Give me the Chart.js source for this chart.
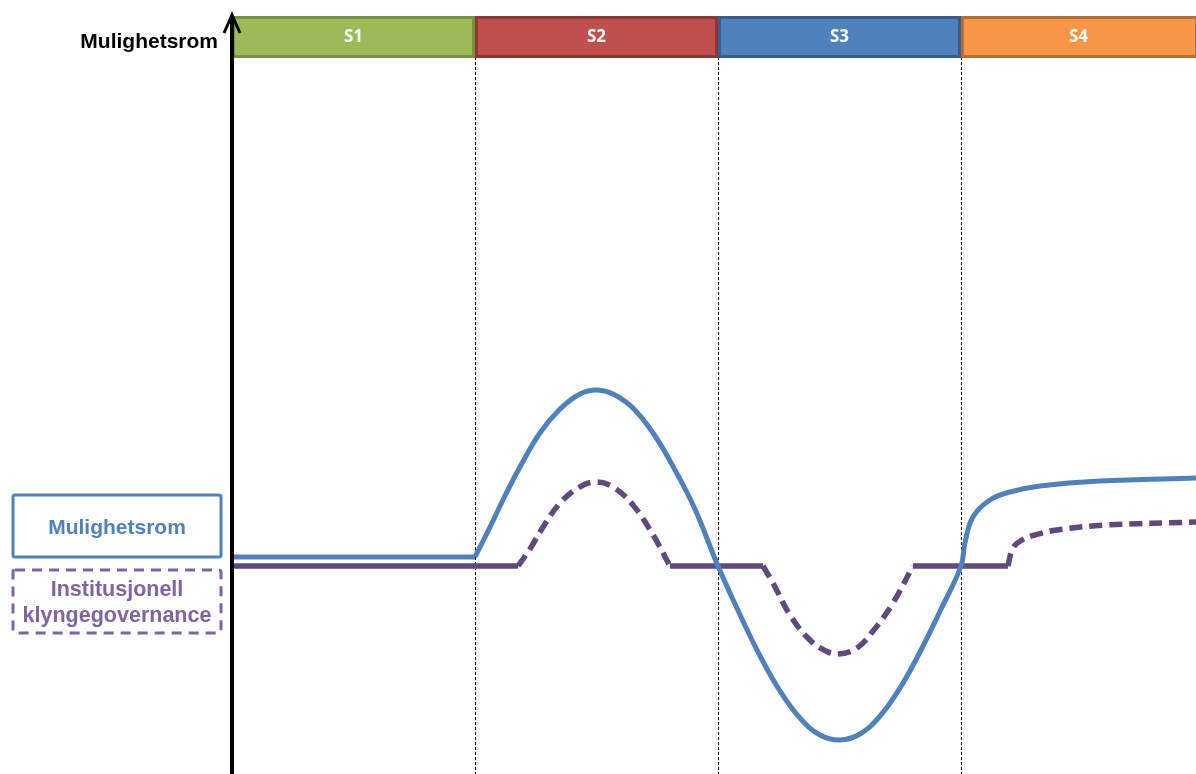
<!DOCTYPE html>
<html>
<head>
<meta charset="utf-8">
<script src="https://cdn.jsdelivr.net/npm/chart.js@4.4.1/dist/chart.umd.min.js"></script>
<style>
  html, body { margin: 0; padding: 0; background: #fff; overflow: hidden; }
  canvas { display: block; }
</style>
</head>
<body>
<canvas id="myChart" width="1196" height="774"></canvas>
<script>
// stages along the time axis (one unit per stage)
var stages = ["S1", "S2", "S3", "S4"];
var stageColors = ["#9BBB59", "#C0504D", "#4F81BD", "#F79646"];
var stageBorders = ["#76923C", "#8C3836", "#385D8A", "#B66D31"];

// Mulighetsrom (blue, solid)
var blueX = [0, 1.0, 1.062, 1.123, 1.185, 1.267, 1.35, 1.432, 1.502, 1.576, 1.658, 1.741, 1.823, 1.905, 2.0,
             2.091, 2.173, 2.255, 2.337, 2.42, 2.502, 2.584, 2.667, 2.749, 2.831, 2.914, 3.0,
             3.016, 3.049, 3.119, 3.202, 3.325, 3.572, 3.97];
var blueY = [0.9, 0.9, 3.9, 7.0, 9.9, 13.3, 15.7, 17.2, 17.6, 17.1, 15.6, 13.0, 9.6, 5.7, 0,
             -4.9, -9.0, -12.5, -15.2, -16.9, -17.4, -16.8, -15.0, -12.2, -8.6, -4.5, 0,
             2.3, 4.9, 6.6, 7.4, 8.0, 8.5, 8.8];

// Institusjonell klyngegovernance (purple, dashed where it moves)
var purpleX = [0, 1.0, 1.177, 1.226, 1.288, 1.35, 1.424, 1.494, 1.568, 1.65, 1.733, 1.802,
               2.0, 2.185, 2.226, 2.296, 2.366, 2.428, 2.494, 2.572, 2.638, 2.72, 2.802,
               3.0, 3.193, 3.214, 3.251, 3.305, 3.395, 3.601, 3.97];
var purpleY = [0, 0, 0, 1.7, 4.2, 6.3, 7.8, 8.4, 7.9, 6.1, 3.1, 0,
               0, 0, -1.7, -4.9, -7.1, -8.3, -8.8, -8.2, -6.5, -3.7, 0,
               0, 0, 1.8, 2.6, 3.1, 3.6, 4.1, 4.4];

// pieces of each line: [from, to, curved]
var blueParts = [[0, 1.0, false], [1.0, 3.97, true]];
var purpleParts = [[0, 1.177, false], [1.177, 1.802, true], [1.802, 2.185, false],
                   [2.185, 2.802, true], [2.802, 3.193, false], [3.193, 3.97, true]];

function slicePoints(xs, ys, from, to) {
  var pts = [];
  for (var i = 0; i < xs.length; i++) {
    if (xs[i] >= from && xs[i] <= to) pts.push({ x: xs[i], y: ys[i] });
  }
  return pts;
}

var decorations = {
  id: "decorations",
  beforeDatasetsDraw: function (chart) {
    var c = chart.ctx;
    var xs = chart.scales.x;
    var area = chart.chartArea;
    c.save();
    // dashed stage separators
    c.strokeStyle = "#000";
    c.lineWidth = 1;
    c.setLineDash([3, 2]);
    for (var i = 1; i < stages.length; i++) {
      var px = Math.round(xs.getPixelForValue(i)) + 0.5;
      c.beginPath();
      c.moveTo(px, 57);
      c.lineTo(px, area.bottom);
      c.stroke();
    }
    c.restore();
  },
  afterDatasetsDraw: function (chart) {
    var c = chart.ctx;
    var xs = chart.scales.x;
    var area = chart.chartArea;
    c.save();

    // stage bars
    for (var i = 0; i < stages.length; i++) {
      var x0 = xs.getPixelForValue(i);
      var x1 = Math.min(xs.getPixelForValue(i + 1), area.right + 2);
      c.fillStyle = stageColors[i];
      c.fillRect(x0, 16, x1 - x0, 42);
      c.strokeStyle = stageBorders[i];
      c.lineWidth = 3;
      c.strokeRect(x0 + 1.5, 17.5, x1 - x0 - 3, 39);
      c.fillStyle = "#fff";
      c.font = "bold 17px 'Open Sans', 'Liberation Sans', sans-serif";
      c.textAlign = "center";
      c.textBaseline = "middle";
      c.fillText(stages[i], (x0 + Math.min(x1, area.right)) / 2, 37);
    }

    // y axis with arrow
    var ax = area.left;
    c.strokeStyle = "#000";
    c.lineWidth = 4;
    c.beginPath();
    c.moveTo(ax, area.bottom);
    c.lineTo(ax, 18);
    c.stroke();
    c.lineWidth = 3;
    c.beginPath();
    c.moveTo(ax - 8, 33);
    c.lineTo(ax, 15);
    c.lineTo(ax + 8, 33);
    c.stroke();

    c.fillStyle = "#000";
    c.font = "bold 21px 'Liberation Sans', Arial, sans-serif";
    c.textAlign = "right";
    c.textBaseline = "middle";
    c.fillText("Mulighetsrom", 218, 42);

    // legend boxes
    c.lineWidth = 3;
    c.strokeStyle = "#4F81BD";
    c.setLineDash([]);
    c.beginPath();
    c.roundRect(13, 495, 208, 62, 2);
    c.stroke();
    c.fillStyle = "#4F81BD";
    c.font = "bold 21px 'Liberation Sans', Arial, sans-serif";
    c.textAlign = "center";
    c.fillText("Mulighetsrom", 117, 528);

    c.strokeStyle = "#8064A2";
    c.setLineDash([10, 7]);
    c.beginPath();
    c.roundRect(13, 570, 208, 63, 2);
    c.stroke();
    c.setLineDash([]);
    c.fillStyle = "#8064A2";
    c.font = "bold 21.5px 'Liberation Sans', Arial, sans-serif";
    c.fillText("Institusjonell", 117, 590);
    c.fillText("klyngegovernance", 117, 616);

    c.restore();
  }
};

var datasets = [];
blueParts.forEach(function (p) {
  datasets.push({
    label: "Mulighetsrom",
    data: slicePoints(blueX, blueY, p[0], p[1]),
    borderColor: "#4F81BD",
    borderWidth: 5,
    borderCapStyle: "butt",
    pointRadius: 0,
    fill: false,
    tension: p[2] ? 0.4 : 0
  });
});
purpleParts.forEach(function (p) {
  datasets.push({
    label: "Institusjonell klyngegovernance",
    data: slicePoints(purpleX, purpleY, p[0], p[1]),
    borderColor: "#604A7B",
    borderWidth: 5.5,
    borderDash: p[2] ? [13, 7] : [],
    pointRadius: 0,
    fill: false,
    tension: p[2] ? 0.4 : 0
  });
});

var options = {
  responsive: false,
  animation: false,
  layout: { padding: { left: 232, top: 0, right: 0, bottom: 0 } },
  plugins: {
    legend: { display: false },
    tooltip: { enabled: false }
  },
  scales: {
    x: { type: "linear", min: 0, max: 3.967, display: false },
    y: { type: "linear", min: -20.8, max: 56.6, display: false }
  }
};

var chart = new Chart(document.getElementById("myChart"), {
  type: "line",
  data: { datasets: datasets },
  options: options,
  plugins: [decorations]
});
</script>
</body>
</html>
